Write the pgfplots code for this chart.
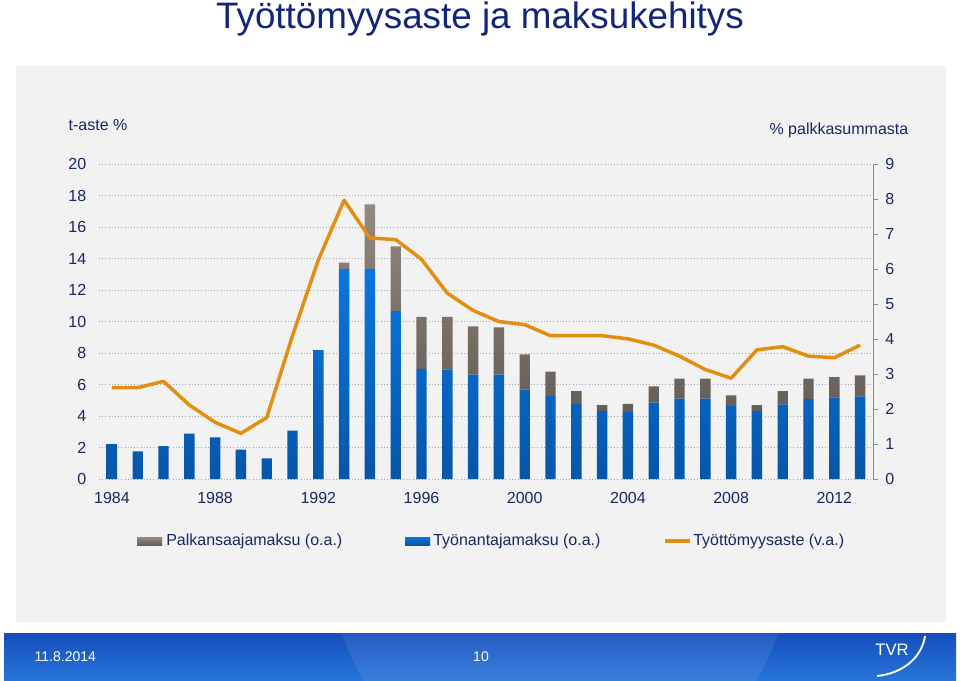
\documentclass[border=0pt]{standalone}
\usepackage{fontspec}
\setmainfont{Liberation Sans}
\usepackage{pgfplots}
\usepackage{pgfplotstable}
\pgfplotsset{compat=1.18}

\definecolor{navy}{RGB}{24,40,96}
\definecolor{titleblue}{RGB}{18,38,120}
\definecolor{tblue}{RGB}{10,118,222}
\definecolor{tbluedark}{RGB}{6,86,168}
\definecolor{pgray}{RGB}{146,137,128}
\definecolor{pgraydark}{RGB}{102,94,86}
\definecolor{torange}{RGB}{226,142,16}
\definecolor{panel}{RGB}{242,242,242}
\definecolor{gridc}{RGB}{160,165,185}
\definecolor{axc}{RGB}{130,140,160}
\definecolor{footA}{RGB}{22,78,188}
\definecolor{footB}{RGB}{38,118,218}

% year, employer fee, employee fee (right axis), unemployment rate (left axis)
\pgfplotstableread{
year tyonantaja palkansaaja taste
1984 1.00 0.00 5.8
1985 0.79 0.00 5.8
1986 0.94 0.00 6.2
1987 1.30 0.00 4.7
1988 1.19 0.00 3.6
1989 0.84 0.00 2.9
1990 0.59 0.00 3.9
1991 1.38 0.00 9.1
1992 3.68 0.00 13.9
1993 6.00 0.18 17.7
1994 6.00 1.85 15.3
1995 4.80 1.85 15.2
1996 3.15 1.48 13.95
1997 3.13 1.50 11.8
1998 2.98 1.38 10.7
1999 2.98 1.35 10.0
2000 2.56 1.00 9.8
2001 2.37 0.70 9.1
2002 2.14 0.37 9.1
2003 1.95 0.16 9.1
2004 1.91 0.24 8.9
2005 2.18 0.47 8.5
2006 2.30 0.57 7.8
2007 2.30 0.57 6.95
2008 2.08 0.31 6.4
2009 1.95 0.16 8.2
2010 2.13 0.38 8.4
2011 2.28 0.59 7.8
2012 2.33 0.58 7.7
2013 2.36 0.60 8.5
}\datatable

\begin{document}
\begin{tikzpicture}
\useasboundingbox (0,0) rectangle (720pt,-510.75pt);
% page in px units: 1px = 0.75pt, y downwards
\begin{scope}[x=0.75pt,y=-0.75pt]
\fill[white] (0,0) rectangle (960,681);
\fill[panel] (16,66) rectangle (946,622);
\node[titleblue,font=\fontsize{27.6}{32}\selectfont] at (480,19) {Työttömyysaste ja maksukehitys};
\node[navy,anchor=west,font=\fontsize{12}{14}\selectfont] at (64,125) {t-aste \%};
\node[navy,anchor=east,font=\fontsize{12}{14}\selectfont] at (913,130) {\% palkkasummasta};
\end{scope}

\pgfplotsset{base/.style={
  scale only axis, width=580.5pt, height=236.25pt,
  at={(74.25pt,-359.25pt)}, anchor=south west,
  xmin=1983.5, xmax=2013.5,
  /pgf/number format/assume math mode=true,
  /pgf/number format/1000 sep={},
  tick label style={font=\fontsize{12}{14}\selectfont, text=navy},
}}

% left axis: grid and labels
\begin{axis}[base,
  ymin=0, ymax=20, ytick={0,2,...,20},
  xtick={1984,1988,...,2012},
  ymajorgrids, grid style={gridc, dotted, line width=0.7pt},
  axis line style={draw=none}, major tick length=0pt,
  yticklabel style={xshift=-6pt}, xticklabel style={yshift=-6.5pt},
]
\addplot[draw=none] coordinates {(1984,0)};
\end{axis}

% right axis: stacked fee bars
\begin{axis}[base,
  ymin=0, ymax=9, ytick={0,...,9},
  axis x line=none, axis y line*=right,
  axis line style={axc, line width=0.75pt},
  tick style={axc, line width=0.75pt},
  tick align=outside, major tick length=3.75pt,
  yticklabel style={anchor=west, xshift=2pt},
  ybar stacked, bar width=7.8pt,
]
\addplot[draw=none, top color=tblue, bottom color=tbluedark] table[x=year,y=tyonantaja]{\datatable};
\addplot[draw=none, top color=pgray, bottom color=pgraydark] table[x=year,y=palkansaaja]{\datatable};
\end{axis}

% unemployment line on left scale
\begin{axis}[base, ymin=0, ymax=20, hide axis]
\addplot[torange, line width=2.6pt, line join=round, mark=none] table[x=year,y=taste]{\datatable};
\end{axis}

\begin{scope}[x=0.75pt,y=-0.75pt]
% legend
\shade[top color=pgray, bottom color=pgraydark] (137,537) rectangle (162,545);
\node[navy,anchor=west,font=\fontsize{12}{14}\selectfont,inner sep=0pt] at (166,541) {Palkansaajamaksu (o.a.)};
\shade[top color=tblue, bottom color=tbluedark] (405,537) rectangle (430,545);
\node[navy,anchor=west,font=\fontsize{12}{14}\selectfont,inner sep=0pt] at (433,541) {Työnantajamaksu (o.a.)};
\draw[torange, line width=2.6pt] (665,541) -- (690,541);
\node[navy,anchor=west,font=\fontsize{12}{14}\selectfont,inner sep=0pt] at (693,541) {Työttömyysaste (v.a.)};

% footer band
\shade[top color=footA, bottom color=footB] (4,633) rectangle (956,681);
\begin{scope}
\clip (4,633) rectangle (956,681);
\fill[white, opacity=0.08] (560,560) circle[radius=230];
\end{scope}
\node[white,anchor=west,font=\fontsize{10.5}{12}\selectfont] at (30,657) {11.8.2014};
\node[white,font=\fontsize{10.5}{12}\selectfont] at (481,657) {10};
\node[white,font=\fontsize{12.5}{14}\selectfont] at (892,650) {TVR};
\draw[white, line width=1.4pt] (877,676) .. controls (905,673) and (922,656) .. (925,636);
\end{scope}
\end{tikzpicture}
\end{document}
